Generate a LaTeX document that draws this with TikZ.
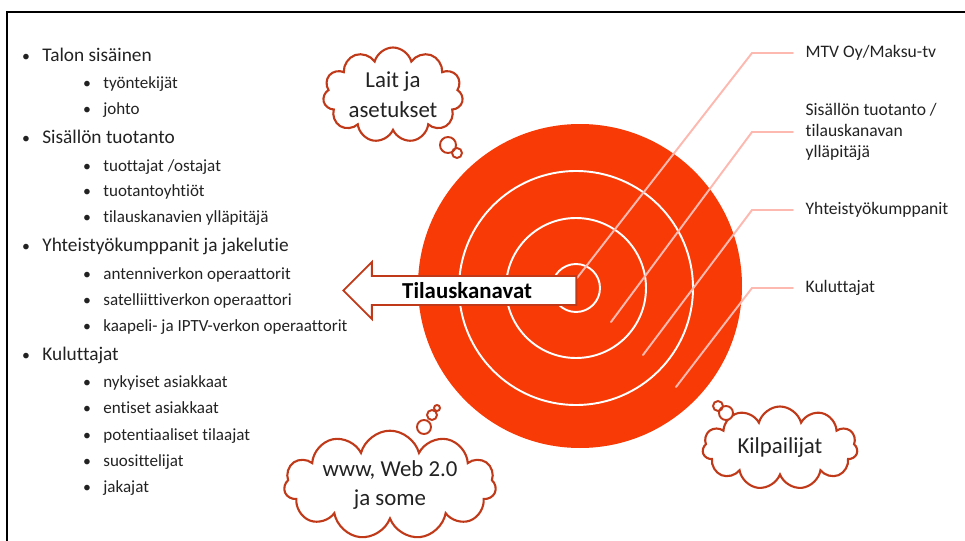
\documentclass[tikz,border=0pt]{standalone}
\usepackage{fontspec}
\setmainfont{Carlito}[Ligatures=NoCommon]
\usetikzlibrary{shapes.symbols,shapes.arrows}
\definecolor{TargetRed}{HTML}{F83B06}
\definecolor{LeaderPink}{HTML}{FDB8B0}
\definecolor{CloudRed}{HTML}{C03A1A}
\definecolor{TextGray}{HTML}{222222}

\begin{document}
\begin{tikzpicture}[x=0.02cm,y=-0.02cm,line cap=round,
  mainitem/.style={anchor=base west,inner sep=0pt,text=TextGray,font=\fontsize{11}{13}\selectfont},
  subitem/.style={mainitem,font=\fontsize{9.7}{12}\selectfont},
  dot/.style={anchor=base,inner sep=0pt,text=TextGray,font=\fontsize{9}{11}\selectfont},
  ring/.style={draw=white,line width=1.1pt},
  leader/.style={draw=LeaderPink,line width=1.1pt},
  tag/.style={anchor=west,align=left,inner xsep=7pt,inner ysep=0pt,text=TextGray,font=\fontsize{10}{12}\selectfont},
  thought/.style={cloud,cloud puffs=11,cloud ignores aspect,draw=CloudRed,fill=white,line width=1.2pt,inner sep=0pt,align=center,text=TextGray,font=\fontsize{13}{17}\selectfont},
  bubble/.style={draw=CloudRed,fill=white,line width=1.1pt}]
  \useasboundingbox (0,0) rectangle (965,541);
  \clip (0,0) rectangle (965,541);
  \draw[line width=1.4pt] (7,560) -- (7,12) -- (980,12);

  % left list
  \foreach \t/\y in {Talon sisäinen/61.7, Sisällön tuotanto/143.3, Yhteistyökumppanit ja jakelutie/251.7, Kuluttajat/360}{
    \node[dot] at (26,\y) {\textbullet}; \node[mainitem] at (42,\y) {\t};}
  \foreach \t/\y [count=\i] in {työntekijät/88.3, johto/114.3, {tuottajat /ostajat}/171, tuotantoyhtiöt/196.7,
      tilauskanavien ylläpitäjä/222.7, antenniverkon operaattorit/279.3, satelliittiverkon operaattori/305.3,
      kaapeli- ja IPTV-verkon operaattorit/331.7, nykyiset asiakkaat/387.7, entiset asiakkaat/413.3,
      potentiaaliset tilaajat/440, suosittelijat/466, jakajat/492.7}{
    \node[dot] at (87,\y) {\textbullet}; \node[subitem] (sub\i) at (103,\y) {\t};}

  % target
  \fill[TargetRed] (580,286) circle (162);
  \foreach \r in {24,70,117} \draw[ring] (576,288) circle (\r);

  % leaders and tags
  \coordinate (s1) at (577,278); \coordinate (s2) at (611,322); \coordinate (s3) at (643,355); \coordinate (s4) at (676,387);
  \coordinate (e1) at (752,53); \coordinate (e2) at (752,132); \coordinate (e3) at (752,210); \coordinate (e4) at (752,288);
  \node[tag] (mtv) at (793,53) {MTV Oy/Maksu-tv};
  \node[tag] (tuotanto) at (793,132) {Sisällön tuotanto /\\tilauskanavan\\ylläpitäjä};
  \node[tag] (kumppanit) at (793,210) {Yhteistyökumppanit};
  \node[tag] (kuluttajat) at (793,288) {Kuluttajat};
  \draw[leader] (s1) -- (e1) -- (mtv.west); \draw[leader] (s2) -- (e2) -- (tuotanto.west);
  \draw[leader] (s3) -- (e3) -- (kumppanit.west); \draw[leader] (s4) -- (e4) -- (kuluttajat.west);

  % arrow
  \node[single arrow,shape border rotate=180,draw=CloudRed,fill=white,line width=1.1pt,anchor=tip,
    minimum height=4.66cm,single arrow head extend=0.28cm,single arrow tip angle=90,
    text height=9pt,text depth=0pt,inner ysep=3.2pt,text=black,
    font=\fontsize{13}{15}\selectfont\bfseries] (kanavat) at (342,290.5) {Tilauskanavat};

  % clouds
  \node[thought,minimum width=2.8cm,minimum height=1.9cm] (laitteet) at (393,95) {Lait ja\\asetukset};
  \draw[bubble] (448,145) circle (8) (457,153) circle (5);
  \node[thought,minimum width=4.24cm,minimum height=2cm] (verkko) at (390,485) {www, Web 2.0\\ja some};
  \draw[bubble] (424,427) circle (7) (432,415) circle (5) (437,408) circle (3);
  \node[thought,minimum width=3.1cm,minimum height=1.66cm] (kilpailijat) at (780,448) {Kilpailijat};
  \draw[bubble] (726,413) circle (7) (718,406) circle (5);
\end{tikzpicture}
\end{document}
